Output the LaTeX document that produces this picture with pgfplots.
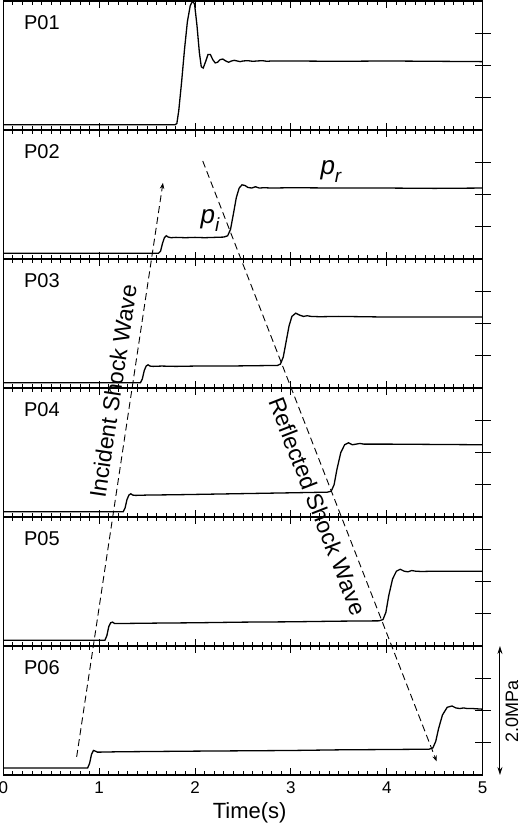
\documentclass[border=0pt]{standalone}
\usepackage{fontspec}
\setmainfont{Liberation Sans}
\usepackage{pgfplots}
\pgfplotsset{compat=1.18}
\usetikzlibrary{arrows.meta}

\pgfplotsset{
  panel/.style={
    width=479.4bp, height=129bp, scale only axis,
    xmin=0, xmax=5, ymin=0, ymax=2,
    xtick={0,1,2,3,4,5}, minor x tick num=9,
    xticklabels={},
    ytick=\empty, ytick pos=right,
    extra y ticks={0.5,1,1.5}, extra y tick labels={},
    extra tick style={tick align=center, major tick length=16bp},
    tick align=inside,
    major tick length=7bp, minor tick length=4bp,
    every tick/.style={black, line width=1bp},
    axis line style={line width=1.2bp},
    anchor=south west,
  },
  sig/.style={black, line width=1.3bp},
}
\tikzset{plab/.style={anchor=west, font=\fontsize{20bp}{24bp}\selectfont}}

\begin{document}
\begin{tikzpicture}

% P01
\begin{axis}[panel, at={(0,645bp)}]
\addplot[sig] coordinates {
(0,0.08) (1.79,0.08) (1.81,0.10) (1.83,0.30) (1.86,0.75) (1.89,1.25) (1.92,1.68)
(1.95,1.93) (1.975,2.0) (1.995,1.95) (2.02,1.62) (2.045,1.20) (2.065,0.98) (2.085,0.96)
(2.11,1.06) (2.135,1.17) (2.16,1.17) (2.185,1.09) (2.21,1.04) (2.235,1.05) (2.26,1.09)
(2.29,1.10) (2.32,1.07) (2.35,1.05) (2.38,1.07) (2.41,1.08) (2.44,1.07) (2.47,1.06)
(2.50,1.07) (2.55,1.075) (2.60,1.065) (2.65,1.07) (2.70,1.075) (2.75,1.065) (2.80,1.07)
(3.0,1.07) (3.5,1.065) (4.0,1.07) (4.5,1.065) (5,1.06)
};
\node[plab] at (axis cs:0.18,1.66) {P01};
\end{axis}

% P02
\begin{axis}[panel, at={(0,516bp)}]
\addplot[sig] coordinates {
(0,0.09) (1.62,0.09) (1.64,0.12) (1.66,0.24) (1.68,0.33) (1.70,0.36) (1.72,0.34)
(1.75,0.33) (1.80,0.335) (1.90,0.33) (2.00,0.335) (2.10,0.33) (2.20,0.335) (2.30,0.34)
(2.34,0.36) (2.37,0.46) (2.40,0.70) (2.43,0.95) (2.46,1.10) (2.49,1.15) (2.52,1.14)
(2.55,1.11) (2.59,1.10) (2.63,1.12) (2.67,1.10) (2.72,1.105) (2.80,1.10) (3.0,1.105)
(3.5,1.10) (4.0,1.10) (4.5,1.095) (5,1.10)
};
\node[plab] at (axis cs:0.18,1.66) {P02};
\end{axis}

% P03
\begin{axis}[panel, at={(0,387bp)}]
\addplot[sig] coordinates {
(0,0.08) (1.43,0.08) (1.45,0.14) (1.47,0.27) (1.49,0.34) (1.51,0.36) (1.53,0.34)
(1.56,0.335) (1.65,0.34) (1.80,0.335) (2.00,0.34) (2.30,0.34) (2.60,0.345) (2.86,0.35)
(2.89,0.37) (2.92,0.48) (2.95,0.72) (2.98,0.96) (3.01,1.11) (3.05,1.16) (3.09,1.13)
(3.13,1.11) (3.17,1.12) (3.21,1.11) (3.30,1.105) (3.50,1.11) (4.0,1.10) (4.5,1.10) (5,1.10)
};
\node[plab] at (axis cs:0.18,1.66) {P03};
\end{axis}

% P04
\begin{axis}[panel, at={(0,258bp)}]
\addplot[sig] coordinates {
(0,0.08) (1.25,0.08) (1.27,0.14) (1.29,0.27) (1.31,0.34) (1.33,0.36) (1.35,0.34)
(1.38,0.335) (1.50,0.34) (1.80,0.345) (2.20,0.355) (2.60,0.365) (3.00,0.375) (3.38,0.385)
(3.42,0.40) (3.45,0.50) (3.48,0.74) (3.52,1.00) (3.56,1.12) (3.60,1.15) (3.64,1.12)
(3.68,1.13) (3.72,1.14) (3.76,1.13) (3.85,1.13) (4.0,1.13) (4.5,1.125) (5,1.12)
};
\node[plab] at (axis cs:0.18,1.66) {P04};
\end{axis}

% P05
\begin{axis}[panel, at={(0,129bp)}]
\addplot[sig] coordinates {
(0,0.09) (1.06,0.09) (1.08,0.16) (1.10,0.30) (1.12,0.36) (1.14,0.37) (1.16,0.35)
(1.19,0.35) (1.30,0.35) (1.60,0.355) (2.00,0.36) (2.50,0.37) (3.00,0.375) (3.50,0.385)
(3.92,0.39) (3.96,0.41) (3.99,0.52) (4.02,0.78) (4.06,1.04) (4.10,1.16) (4.14,1.19)
(4.18,1.16) (4.22,1.15) (4.26,1.17) (4.30,1.16) (4.36,1.155) (4.5,1.16) (5,1.16)
};
\node[plab] at (axis cs:0.18,1.66) {P05};
\end{axis}

% P06
\begin{axis}[panel, at={(0,0)},
  xticklabels={0,1,2,3,4,5},
  /pgf/number format/assume math mode=true,
  xticklabel style={font=\fontsize{17bp}{20bp}\selectfont, yshift=-3bp},
]
\addplot[sig] coordinates {
(0,0.11) (0.88,0.11) (0.90,0.18) (0.92,0.32) (0.94,0.38) (0.96,0.37) (0.98,0.355)
(1.02,0.355) (1.20,0.36) (1.60,0.365) (2.00,0.37) (2.50,0.375) (3.00,0.38) (3.50,0.39)
(4.00,0.395) (4.44,0.40) (4.48,0.42) (4.51,0.52) (4.54,0.72) (4.58,0.93) (4.63,1.05)
(4.68,1.07) (4.72,1.04) (4.76,1.03) (4.80,1.04) (4.84,1.03) (4.9,1.03) (5,1.02)
};
\node[plab] at (axis cs:0.18,1.66) {P06};
\end{axis}

% annotations over the whole stack
\begin{axis}[
  at={(0,0)}, anchor=south west,
  width=479.4bp, height=774bp, scale only axis,
  xmin=0, xmax=5, ymin=0, ymax=12,
  hide axis, clip=false,
]
\addplot[black, line width=0.9bp, dash pattern=on 7bp off 4bp,
  -{Stealth[length=6bp,width=4.5bp]}] coordinates {(0.765,0.28) (1.665,9.18)};
\addplot[black, line width=0.9bp, dash pattern=on 7bp off 4bp,
  -{Stealth[length=6bp,width=4.5bp]}] coordinates {(2.08,9.52) (4.52,0.21)};
\addplot[black, line width=1bp, {Stealth[length=8bp,width=5bp]}-{Stealth[length=8bp,width=5bp]}]
  coordinates {(5.18,0) (5.18,2)};
\node[rotate=81.5, font=\fontsize{23bp}{26bp}\selectfont] at (axis cs:1.145,5.95) {Incident Shock Wave};
\node[rotate=-68.7, font=\fontsize{23bp}{26bp}\selectfont] at (axis cs:3.28,4.17) {Reflected Shock Wave};
\node[rotate=90, inner sep=0pt, font=\fontsize{18bp}{20bp}\selectfont] at (axis cs:5.305,0.98) {2.0MPa};
\node[font=\fontsize{22bp}{24bp}\selectfont, anchor=base, inner sep=0pt] at (axis cs:2.57,-0.682) {Time(s)};
\node[inner sep=0pt] at (axis cs:2.155,8.60)
  {{\fontsize{26bp}{28bp}\selectfont\itshape p}\raisebox{-8bp}{\fontsize{19bp}{20bp}\selectfont\itshape i}};
\node[inner sep=0pt] at (axis cs:3.417,9.36)
  {{\fontsize{26bp}{28bp}\selectfont\itshape p}\raisebox{-8bp}{\fontsize{19bp}{20bp}\selectfont\itshape r}};
\end{axis}

\pgfresetboundingbox
\useasboundingbox (-3.3bp,-51bp) rectangle (516.7bp,775bp);
\end{tikzpicture}
\end{document}
